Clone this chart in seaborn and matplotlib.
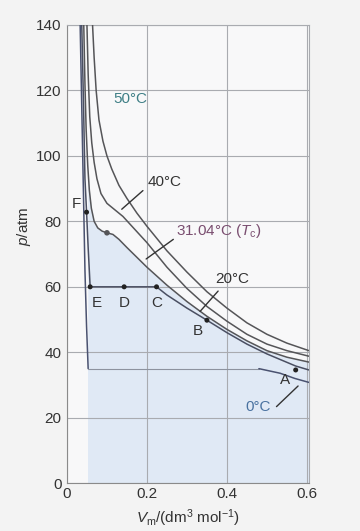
import matplotlib
matplotlib.use("Agg")
import matplotlib.pyplot as plt
import seaborn as sns
import pandas as pd

# ---- data ----
v50 = [0.064, 0.068, 0.073, 0.080, 0.090, 0.100, 0.112, 0.130, 0.150, 0.175, 0.200, 0.250, 0.300, 0.350, 0.400, 0.450, 0.500, 0.550, 0.605]
p50 = [140, 130, 120, 111, 104.5, 100, 96, 91, 87, 82.5, 78.5, 71, 64.5, 58.5, 53.5, 49, 45.5, 42.8, 40.5]

v40 = [0.050, 0.053, 0.057, 0.062, 0.068, 0.075, 0.085, 0.100, 0.120, 0.140, 0.170, 0.200, 0.250, 0.300, 0.350, 0.400, 0.450, 0.500, 0.550, 0.605]
p40 = [140, 125, 112, 104, 98, 93, 88.5, 85.5, 83.5, 81.5, 77.5, 73.5, 66, 59.5, 54, 49.5, 45.5, 42.5, 40.5, 38.8]

v31 = [0.042, 0.045, 0.048, 0.052, 0.056, 0.061, 0.068, 0.077, 0.088, 0.100, 0.115, 0.130, 0.150, 0.175, 0.200, 0.250, 0.300, 0.350, 0.400, 0.450, 0.500, 0.550, 0.605]
p31 = [140, 122, 108, 97, 89.5, 84, 80, 78, 77, 76.5, 76, 74.5, 72, 69, 66, 60.5, 55.5, 51, 47, 43.5, 40.5, 38.5, 37]

v20 = [0.037, 0.041, 0.045, 0.049, 0.053, 0.058, 0.143, 0.224, 0.250, 0.300, 0.350, 0.400, 0.450, 0.500, 0.572, 0.605]
p20 = [140, 118, 93, 83, 72, 60, 60, 60, 57.5, 53.5, 49.8, 46, 42.5, 39.5, 35.8, 34.6]

v0_liq = [0.033, 0.037, 0.041, 0.045, 0.049, 0.053]
p0_liq = [140, 115, 90, 65, 48, 35]
v0_tie = [0.053, 0.480]
p0_tie = [35, 35]
v0_gas = [0.480, 0.533, 0.570, 0.605]
p0_gas = [35, 33.6, 32.0, 30.8]

pt_labels = ["A", "B", "C", "D", "E", "F"]
pt_v = [0.572, 0.350, 0.224, 0.143, 0.058, 0.049]
pt_p = [34.6, 49.8, 60, 60, 60, 82.8]

x_ticks = [0, 0.2, 0.4, 0.6]
x_tick_labels = ["0", "0.2", "0.4", "0.6"]
y_ticks = [0, 20, 40, 60, 80, 100, 120, 140]

# ---- figure ----
sns.set_theme(style="whitegrid")
plt.rcParams["font.family"] = ["Liberation Sans", "DejaVu Sans"]
plt.rcParams["mathtext.fontset"] = "custom"
plt.rcParams["mathtext.rm"] = "Liberation Sans"
plt.rcParams["mathtext.it"] = "Liberation Sans:italic"

FS = 11

fig = plt.figure(figsize=(3.6, 5.31), dpi=100, facecolor="#f3f3f3")
ax = fig.add_axes([0.186, 0.090, 0.672, 0.863])
ax.set_facecolor("#f8f8f9")

# shaded region below the critical isotherm
sv = [v for v in v31 if v >= 0.052]
sp = [p for v, p in zip(v31, p31) if v >= 0.052]
ax.fill_between(sv, sp, 0, color="#e0e9f5", lw=0, zorder=0.5)
ax.fill_between([0.053, 0.605], [35, 35], 0, color="#e0e9f5", lw=0, zorder=0.5)

line_col = "#555558"
curves = [(v50, p50, line_col, 1.1), (v40, p40, line_col, 1.1), (v31, p31, line_col, 1.1),
          (v20, p20, "#4a4f62", 1.1), (v0_liq, p0_liq, "#4a5270", 1.1),
          (v0_tie, p0_tie, "#8d939f", 0.8), (v0_gas, p0_gas, "#4a5270", 1.1)]
for vv, pp, c, w in curves:
    df = pd.DataFrame({"V": vv, "p": pp})
    sns.lineplot(data=df, x="V", y="p", sort=False, estimator=None, ax=ax,
                 color=c, lw=w, zorder=3)

# critical point dot
sns.scatterplot(x=[0.100], y=[76.5], ax=ax, color="#555558", s=16, edgecolor="none", zorder=4)
sns.scatterplot(x=pt_v, y=pt_p, ax=ax, color="#222222", s=13, edgecolor="none", zorder=4)

# point labels
lab_pos = {"A": (0.545, 31.5), "B": (0.328, 46.5), "C": (0.224, 55.0),
           "D": (0.143, 55.0), "E": (0.074, 55.0), "F": (0.024, 85.3)}
for k in pt_labels:
    x, y = lab_pos[k]
    ax.text(x, y, k, ha="center", va="center", fontsize=FS, color="#333333", zorder=5)

# curve labels with leader lines
ax.text(0.158, 117.5, "50°C", ha="center", va="center", fontsize=FS, color="#3f7f86", zorder=5)
ax.text(0.243, 92.0, "40°C", ha="center", va="center", fontsize=FS, color="#333333", zorder=5)
ax.plot([0.137, 0.19], [83.7, 89.4], color="#333333", lw=1.0, zorder=5)
ax.text(0.272, 77.0, "31.04°C ($T_{\\rm c}$)", ha="left", va="center", fontsize=FS, color="#7a4e70", zorder=5)
ax.plot([0.198, 0.266], [68.5, 74.5], color="#333333", lw=1.0, zorder=5)
ax.text(0.413, 62.3, "20°C", ha="center", va="center", fontsize=FS, color="#333333", zorder=5)
ax.plot([0.333, 0.378], [52.5, 58.7], color="#333333", lw=1.0, zorder=5)
ax.text(0.478, 23.4, "0°C", ha="center", va="center", fontsize=FS, color="#4a72a0", zorder=5)
ax.plot([0.524, 0.578], [23.4, 29.7], color="#333333", lw=1.0, zorder=5)

ax.set_xlim(0, 0.605)
ax.set_ylim(0, 140)
ax.set_xticks(x_ticks)
ax.set_xticklabels(x_tick_labels)
ax.set_yticks(y_ticks)
ax.tick_params(axis="both", length=0, labelsize=FS, colors="#333333")
ax.tick_params(axis="y", pad=4)
ax.tick_params(axis="x", pad=3)
ax.grid(True, color="#a9abb0", lw=0.8)
for s in ax.spines.values():
    s.set_visible(True)
    s.set_color("#a9abb0")
    s.set_linewidth(0.8)
ax.spines["left"].set_color("#8a8a8a")
ax.spines["bottom"].set_color("#8a8a8a")

ax.set_xlabel("$V_{\\rm m}$/(dm$^3$ mol$^{-1}$)", fontsize=FS, color="#333333")
ax.set_ylabel("$p$/atm", fontsize=FS, color="#333333")
ax.yaxis.set_label_coords(-0.14, 0.56)
ax.xaxis.set_label_coords(0.5, -0.052)

fig.savefig("out.png", dpi=100, facecolor=fig.get_facecolor())
